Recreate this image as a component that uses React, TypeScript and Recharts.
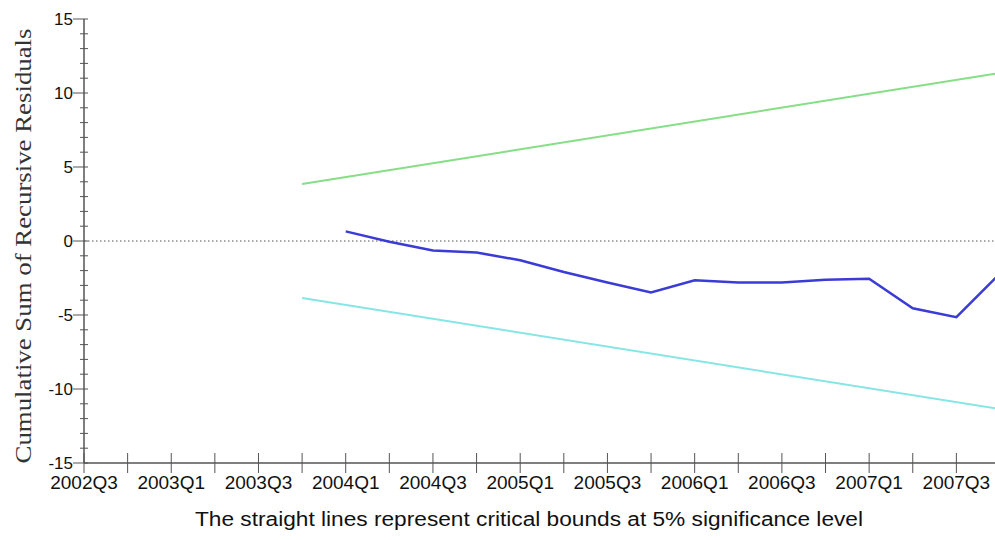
import React from "react";
import {
  Line,
  LineChart,
  ReferenceLine,
  XAxis,
  YAxis,
} from "recharts";

// quarters on the x axis (2002Q3 .. 2007Q4)
const quarters = [
  "2002Q3", "2002Q4", "2003Q1", "2003Q2", "2003Q3", "2003Q4",
  "2004Q1", "2004Q2", "2004Q3", "2004Q4", "2005Q1", "2005Q2",
  "2005Q3", "2005Q4", "2006Q1", "2006Q2", "2006Q3", "2006Q4",
  "2007Q1", "2007Q2", "2007Q3", "2007Q4",
];

// CUSUM, from 2004Q1 on
const cusum = [
  null, null, null, null, null, null,
  0.65, -0.05, -0.64, -0.78, -1.3, -2.1,
  -2.8, -3.48, -2.66, -2.8, -2.8, -2.62,
  -2.55, -4.55, -5.15, -2.2,
];

// 5% bounds: straight lines, only end points given
const upper = [
  null, null, null, null, null, 3.85,
  null, null, null, null, null, null,
  null, null, null, null, null, null,
  null, null, null, 11.36,
];
const lower = [
  null, null, null, null, null, -3.85,
  null, null, null, null, null, null,
  null, null, null, null, null, null,
  null, null, null, -11.36,
];

const yLabels = [-15, -10, -5, 0, 5, 10, 15];
const yTicks = Array.from({ length: 31 }, (_, i) => i - 15);

const data = quarters.map((q, i) => ({
  quarter: q,
  cusum: cusum[i],
  upper: upper[i],
  lower: lower[i],
}));

const AXIS = "#555";
const TEXT = "#111";

function XTick(props: any) {
  const { x, y, payload } = props;
  const q: string = payload.value;
  const showLabel = q.endsWith("Q1") || q.endsWith("Q3");
  return (
    <g>
      <line x1={x} x2={x} y1={y - 10} y2={y + 10} stroke={AXIS} strokeWidth={1} />
      {showLabel && (
        <text
          x={x}
          y={y + 26}
          textAnchor="middle"
          fontFamily="'Liberation Sans', Arial, sans-serif"
          fontSize={19}
          fill={TEXT}
        >
          {q}
        </text>
      )}
    </g>
  );
}

function YTick(props: any) {
  const { x, y, payload } = props;
  const v: number = payload.value;
  const major = yLabels.includes(v);
  return (
    <g>
      <line
        x1={major ? x - 11 : x - 4}
        x2={x + 4}
        y1={y}
        y2={y}
        stroke={AXIS}
        strokeWidth={1}
      />
      {major && (
        <text
          x={x - 11}
          y={y + 6}
          textAnchor="end"
          fontFamily="'Liberation Sans', Arial, sans-serif"
          fontSize={17}
          fill={TEXT}
        >
          {v}
        </text>
      )}
    </g>
  );
}

export default function App() {
  return (
    <div
      style={{
        position: "absolute",
        left: 0,
        top: 0,
        width: 995,
        height: 540,
        overflow: "hidden",
        background: "#fff",
      }}
    >
      <LineChart
        width={1000}
        height={540}
        data={data}
        margin={{ top: 19, right: 0, bottom: 27, left: 0 }}
      >
        <XAxis
          dataKey="quarter"
          interval={0}
          height={50}
          tickSize={0}
          tickMargin={0}
          tickLine={false}
          axisLine={{ stroke: AXIS, strokeWidth: 1.5 }}
          tick={<XTick />}
          label={() => (
            <text
              x={529}
              y={526}
              textAnchor="middle"
              fontFamily="'Liberation Sans', Arial, sans-serif"
              fontSize={20}
              textLength={668}
              lengthAdjust="spacingAndGlyphs"
              fill={TEXT}
            >
              The straight lines represent critical bounds at 5% significance level
            </text>
          )}
        />
        <YAxis
          type="number"
          domain={[-15, 15]}
          ticks={yTicks}
          interval={0}
          width={84}
          tickSize={0}
          tickMargin={0}
          tickLine={false}
          axisLine={{ stroke: AXIS, strokeWidth: 1.5 }}
          tick={<YTick />}
          label={() => (
            <text
              x={23}
              y={246}
              transform="rotate(-90 23 246)"
              textAnchor="middle"
              dominantBaseline="central"
              fontFamily="'Liberation Serif', 'Times New Roman', serif"
              fontSize={23}
              textLength={435}
              lengthAdjust="spacingAndGlyphs"
              fill="#333"
            >
              Cumulative Sum of Recursive Residuals
            </text>
          )}
        />
        <ReferenceLine y={0} stroke="#555" strokeDasharray="1.5 2.5" strokeWidth={1.2} />
        <Line
          dataKey="upper"
          stroke="#86de86"
          strokeWidth={2}
          dot={false}
          connectNulls
          isAnimationActive={false}
        />
        <Line
          dataKey="lower"
          stroke="#86e6e6"
          strokeWidth={2}
          dot={false}
          connectNulls
          isAnimationActive={false}
        />
        <Line
          dataKey="cusum"
          stroke="#3b3bd6"
          strokeWidth={2.5}
          dot={false}
          type="linear"
          isAnimationActive={false}
        />
      </LineChart>
    </div>
  );
}
